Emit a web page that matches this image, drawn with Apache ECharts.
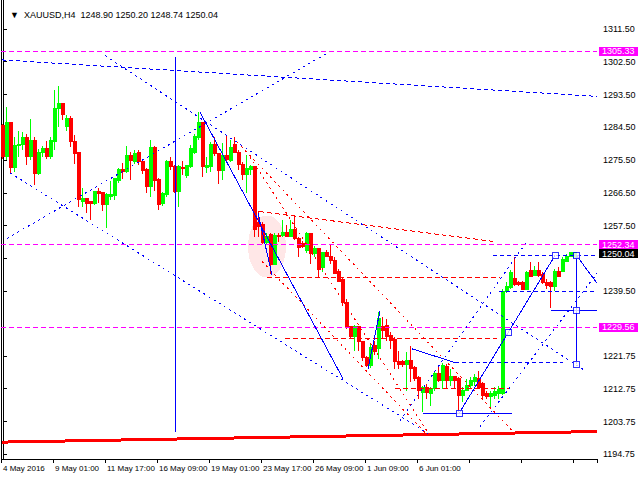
<!DOCTYPE html>
<html><head><meta charset="utf-8">
<script src="https://cdn.jsdelivr.net/npm/echarts@6/dist/echarts.min.js"></script>
<style>
html,body{margin:0;padding:0;background:#fff}
#c{width:640px;height:480px}
#c svg path,#c svg line,#c svg rect,#c svg polyline,#c svg ellipse{shape-rendering:crispEdges}
</style>
</head><body><div id="c"></div>
<script>
// ---------- data ----------
const headerText = '\u25BC  XAUUSD,H4  1248.90 1250.20 1248.74 1250.04';
const xLabels = ['4 May 2016','9 May 01:00','11 May 17:00','16 May 09:00','19 May 01:00','23 May 17:00','26 May 09:00','1 Jun 09:00','6 Jun 01:00'];
const yTicks = [1311.50,1302.50,1293.50,1284.50,1275.50,1266.50,1257.50,1248.50,1239.50,1221.75,1212.75,1203.75,1194.75];
const yTickLabels = [1311.50,1302.50,1293.50,1284.50,1275.50,1266.50,1257.50,1239.50,1221.75,1212.75,1203.75,1194.75];
const yMin = 1193.468, yMax = 1319.446;
const slotCount = 149;      // bar slots on the time axis (last 5 empty)
const labelEvery = 13;      // one time label every 13 bars
// [open, close, low, high]
const candles = [
[1285.1,1276.4,1275.8,1285.4],[1276.4,1285.7,1275.6,1290.0],[1285.7,1273.4,1271.7,1285.9],[1273.4,1279.4,1272.3,1281.8],
[1279.4,1279.9,1276.4,1283.5],[1279.7,1281.8,1278.3,1283.2],[1281.8,1276.4,1274.2,1282.7],[1276.4,1281.0,1275.6,1286.8],
[1281.0,1271.7,1268.7,1281.8],[1271.7,1277.7,1271.5,1278.6],[1277.5,1278.6,1276.4,1279.4],[1278.6,1276.4,1275.8,1280.8],
[1276.4,1280.8,1275.8,1281.8],[1280.5,1289.8,1278.3,1294.7],[1289.8,1291.1,1284.6,1295.8],[1291.1,1288.1,1286.5,1291.1],
[1284.8,1287.0,1283.5,1287.9],[1287.0,1280.5,1279.1,1287.6],[1280.5,1277.2,1274.5,1282.4],[1277.5,1264.6,1262.7,1277.5],
[1264.1,1264.9,1262.5,1267.9],[1264.9,1263.6,1261.1,1265.2],[1264.1,1263.6,1259.2,1264.1],[1263.6,1266.8,1263.3,1267.1],
[1266.8,1266.3,1263.8,1267.9],[1266.6,1263.3,1261.4,1266.8],[1263.3,1266.0,1257.0,1266.6],[1265.5,1266.0,1264.6,1269.8],
[1265.7,1270.4,1264.6,1270.7],[1269.8,1272.8,1269.3,1273.4],[1272.8,1272.3,1270.4,1274.7],[1272.3,1276.7,1272.0,1279.4],
[1276.9,1275.3,1270.1,1277.7],[1275.0,1277.2,1274.5,1278.3],[1277.7,1275.0,1274.2,1278.3],[1275.0,1272.6,1271.7,1275.6],
[1272.8,1268.2,1266.6,1273.4],[1268.2,1279.1,1265.5,1281.0],[1279.1,1269.8,1267.1,1279.4],[1270.1,1263.3,1261.9,1270.7],
[1263.6,1266.3,1263.0,1266.8],[1266.0,1275.0,1265.5,1275.6],[1275.0,1273.7,1272.8,1276.4],[1273.7,1266.8,1266.6,1274.2],
[1266.8,1273.7,1262.7,1274.2],[1273.4,1273.1,1271.5,1275.3],[1271.2,1273.9,1270.7,1274.2],[1273.7,1278.6,1273.4,1279.7],
[1277.7,1282.1,1277.2,1282.7],[1281.8,1285.7,1281.0,1288.7],[1285.7,1273.7,1270.9,1285.9],[1273.4,1273.9,1272.0,1276.4],
[1273.7,1279.9,1272.3,1280.5],[1279.9,1277.2,1276.7,1281.8],[1277.2,1272.6,1269.0,1277.5],[1272.6,1276.9,1270.1,1280.2],
[1276.9,1275.6,1275.0,1282.4],[1275.3,1279.1,1275.0,1281.0],[1279.7,1277.7,1277.5,1281.8],[1277.7,1274.2,1272.8,1278.3],
[1274.2,1271.5,1270.1,1275.0],[1271.5,1273.1,1266.6,1276.9],[1272.8,1273.7,1271.5,1274.2],[1273.7,1256.5,1254.5,1273.7],
[1258.4,1257.3,1254.5,1261.4],[1257.8,1252.9,1252.4,1258.6],[1252.9,1254.5,1252.1,1255.6],[1255.1,1246.9,1244.2,1255.6],
[1246.9,1254.8,1246.6,1255.6],[1254.8,1254.5,1252.9,1255.6],[1254.8,1255.6,1254.5,1259.2],[1255.6,1254.5,1254.3,1257.8],
[1254.5,1256.5,1254.3,1259.2],[1256.5,1254.0,1253.5,1260.3],[1254.0,1251.5,1248.8,1254.5],[1252.6,1251.8,1251.3,1253.2],
[1250.7,1255.4,1249.9,1255.9],[1255.4,1249.9,1246.9,1255.6],[1249.9,1251.3,1248.8,1251.8],[1251.3,1245.5,1243.4,1251.5],
[1246.1,1250.2,1244.7,1250.4],[1250.2,1249.1,1248.8,1250.7],[1249.1,1248.0,1246.9,1252.6],[1248.0,1244.4,1244.2,1248.8],
[1245.0,1242.3,1242.0,1245.5],[1242.8,1236.5,1235.4,1243.4],[1236.5,1229.7,1229.2,1237.3],[1229.7,1227.2,1226.4,1230.0],
[1227.2,1229.7,1223.1,1230.2],[1229.7,1225.6,1223.1,1230.0],[1225.6,1221.2,1220.4,1225.9],[1221.2,1219.1,1218.8,1221.8],
[1219.1,1224.2,1218.5,1225.1],[1224.5,1223.1,1222.1,1225.9],[1223.7,1232.1,1221.0,1233.8],[1229.7,1228.6,1226.4,1232.4],
[1230.0,1227.2,1225.9,1231.9],[1227.5,1225.9,1223.7,1228.3],[1226.4,1220.1,1218.2,1227.0],[1220.1,1219.3,1218.2,1223.1],
[1220.1,1219.3,1218.8,1220.7],[1219.3,1220.4,1212.0,1222.9],[1220.4,1218.2,1214.7,1224.5],[1218.5,1215.5,1215.0,1219.1],
[1215.8,1212.2,1210.0,1216.3],[1211.7,1213.0,1206.5,1213.6],[1213.0,1211.7,1210.0,1214.1],[1211.4,1212.8,1208.1,1213.3],
[1212.8,1216.9,1212.2,1217.4],[1216.9,1215.0,1214.7,1218.8],[1215.0,1219.1,1212.8,1219.9],[1218.8,1215.0,1212.8,1219.6],
[1215.0,1216.1,1213.6,1218.2],[1216.1,1215.0,1212.8,1216.3],[1215.5,1210.9,1206.5,1216.1],[1210.9,1212.2,1209.2,1213.3],
[1212.2,1213.6,1212.0,1215.5],[1213.6,1214.9,1212.8,1216.1],[1214.7,1215.8,1213.6,1216.9],[1215.5,1213.0,1212.8,1217.7],
[1214.1,1210.9,1210.0,1214.7],[1211.4,1210.6,1210.0,1212.0],[1210.6,1211.4,1207.3,1212.2],[1210.9,1212.0,1210.0,1213.3],
[1211.4,1212.5,1210.0,1213.6],[1211.4,1239.5,1210.9,1240.1],[1239.5,1240.9,1239.0,1242.0],[1240.6,1244.7,1240.1,1245.3],
[1243.1,1241.4,1240.9,1248.8],[1242.0,1241.4,1240.9,1242.3],[1242.0,1240.1,1240.1,1242.3],[1240.1,1244.7,1239.8,1245.0],
[1245.3,1243.6,1243.4,1247.4],[1243.9,1245.3,1243.6,1246.4],[1245.3,1243.9,1243.4,1247.4],[1244.2,1242.0,1241.4,1244.7],
[1242.0,1241.2,1240.1,1242.8],[1242.0,1240.9,1234.9,1242.3],[1240.9,1245.0,1239.5,1245.5],[1245.0,1243.6,1243.4,1246.1],
[1245.0,1248.3,1244.7,1248.8],[1247.7,1249.1,1247.4,1249.6],[1249.1,1250.2,1248.8,1250.4],[1248.90,1250.04,1248.74,1250.20]
];
const magentaLevels = [1305.33, 1252.34, 1229.56];
const lastPrice = 1250.04;
// annotation lines: [[barIndex, price], [barIndex, price]]
const blueDashed = [
  [[-0.25,1303.0],[148.5,1293.0]],
  [[122.5,1249.32],[148.5,1249.32]],
  [[124,1239.44],[148.5,1239.44]],
  [[113,1219.95],[140,1219.95]]
];
const blueDotted = [
  [[25.5,1304.2],[145.5,1217.7]],
  [[1.75,1272.0],[106.25,1200.5]],
  [[1,1254.0],[81.25,1305.0]],
  [[99.25,1204.0],[131,1253.2]],
  [[119.25,1202.4],[148.5,1244.4]]
];
const blueSolid = [
  [[43.125,1303.7],[43.125,1201.0]],
  [[49.25,1288.65],[85,1215.5]],
  [[63.75,1261.1],[67.25,1243.9]],
  [[91.25,1218.2],[94.25,1234.1]],
  [[102.25,1223.7],[113,1219.95]],
  [[105,1205.96],[127.25,1205.96]],
  [[114,1205.96],[138,1249.32]],
  [[143.375,1249.32],[148.5,1241.7]],
  [[143.375,1249.32],[143.375,1219.41]],
  [[137,1234.23],[148.5,1234.23]]
];
const blueSquares = [[114,1205.96],[126.25,1228.09],[138,1249.32],[143.375,1249.32],[143.375,1234.23],[143.375,1219.41]];
const redDashed = [
  [[64,1261.4],[122.5,1253.2]],
  [[66,1243.28],[124.25,1243.28]],
  [[70.5,1226.54],[123.5,1226.54]],
  [[98,1212.82],[126.75,1212.82]]
];
const redDotted = [
  [[58.5,1280.5],[127.25,1201.3]],
  [[61.75,1276.4],[106.75,1199.9]],
  [[64.75,1247.7],[106.25,1199.9]]
];
const redTrend = [[-0.25,1198.1],[148.5,1201.0]];
const highlight = [66,1251.8];

// ---------- chart ----------
const FONT = 'Liberation Sans';
const categories = Array.from({length: slotCount}, (_, i) =>
  (i % labelEvery === 0 && xLabels[i / labelEvery]) ? xLabels[i / labelEvery] : '');

function seg(points, color, type, width, z) {
  return {
    type: 'line', xAxisIndex: 1, yAxisIndex: 0, data: points, showSymbol: false, symbol: 'none',
    silent: true, z: z, animation: false, clip: true,
    lineStyle: {color: color, width: width, type: type, opacity: 1},
    itemStyle: {color: color}, emphasis: {disabled: true}
  };
}

const series = [
  {type: 'scatter', xAxisIndex: 1, yAxisIndex: 0, symbol: 'circle', symbolSize: [38, 62], silent: true, z: 1,
   itemStyle: {color: 'rgba(255,200,200,0.55)'}, data: [highlight]},
  {type: 'candlestick', xAxisIndex: 0, yAxisIndex: 0, data: candles, barWidth: 3, z: 3,
   itemStyle: {color: '#00ff00', color0: '#ff0000', borderColor: '#00ff00', borderColor0: '#ff0000', borderWidth: 1}}
];
magentaLevels.forEach(v => series.push(seg([[-0.5, v], [slotCount - 0.5, v]], '#ff00ff', [5, 3], 1, 4)));
series.push(seg(redTrend, '#ff0000', 'solid', 3, 4));
redDashed.forEach(s => series.push(seg(s, '#ff0000', [5, 3], 1, 4)));
redDotted.forEach(s => series.push(seg(s, '#ff0000', [2, 4], 1, 4)));
blueDashed.forEach(s => series.push(seg(s, '#0000ff', [4, 3], 1, 5)));
blueDotted.forEach(s => series.push(seg(s, '#0000ff', [2, 4], 1, 5)));
blueSolid.forEach(s => series.push(seg(s, '#0000ff', 'solid', 1, 5)));
series.push({type: 'scatter', xAxisIndex: 1, yAxisIndex: 0, symbol: 'rect', symbolSize: 6, silent: true, z: 6,
  itemStyle: {color: '#fff', borderColor: '#0000ff', borderWidth: 1}, data: blueSquares});

// price tags at the right edge
const tagLabel = (bg, dy) => ({show: true, position: 'end', color: '#fff', backgroundColor: bg,
  padding: [1, 3, 0, 3], lineHeight: 8, fontSize: 9, fontFamily: FONT, distance: 2, offset: [0, dy]});
const tagData = magentaLevels.map(v => ({yAxis: v, label: Object.assign(tagLabel('#ff00ff', 0), {formatter: v.toFixed(2)})}));
tagData.push({yAxis: lastPrice, label: Object.assign(tagLabel('#000', 0.62), {formatter: lastPrice.toFixed(2)})});
series.push({type: 'line', xAxisIndex: 0, yAxisIndex: 0, data: [], z: 7, silent: true,
  markLine: {symbol: 'none', silent: true, animation: false,
             lineStyle: {color: 'rgba(0,0,0,0)', width: 0}, data: tagData}});

const chart = echarts.init(document.getElementById('c'), null, {renderer: 'svg'});
chart.setOption({
  animation: false,
  backgroundColor: '#fff',
  title: {text: headerText, left: 5, top: 5,
          textStyle: {fontSize: 9, fontWeight: 'normal', color: '#000', fontFamily: FONT}},
  grid: {left: 1, right: 43, top: 0, bottom: 21, show: false},
  xAxis: [{
    type: 'category', data: categories, boundaryGap: true,
    axisLine: {show: true, lineStyle: {color: '#000'}},
    axisTick: {show: true, interval: labelEvery - 1, length: 4, lineStyle: {color: '#000'}},
    axisLabel: {interval: labelEvery - 1, align: 'left', margin: 5, fontSize: 8, color: '#000', fontFamily: FONT},
    splitLine: {show: false}
  }, {
    type: 'value', min: -0.5, max: slotCount - 0.5, show: false
  }],
  yAxis: [{
    type: 'value', position: 'right', min: yMin, max: yMax,
    axisLine: {show: true, lineStyle: {color: '#000'}},
    axisTick: {show: true, length: 4, customValues: yTicks, lineStyle: {color: '#000'}},
    axisLabel: {customValues: yTickLabels, formatter: v => Number(v).toFixed(2), margin: 6,
                fontSize: 9, color: '#000', fontFamily: FONT},
    splitLine: {show: false}
  }, {
    type: 'value', position: 'left', min: yMin, max: yMax,
    axisLine: {show: true, lineStyle: {color: '#000'}},
    axisTick: {show: false}, axisLabel: {show: false}, splitLine: {show: false}
  }],
  series: series
});
</script></body></html>
